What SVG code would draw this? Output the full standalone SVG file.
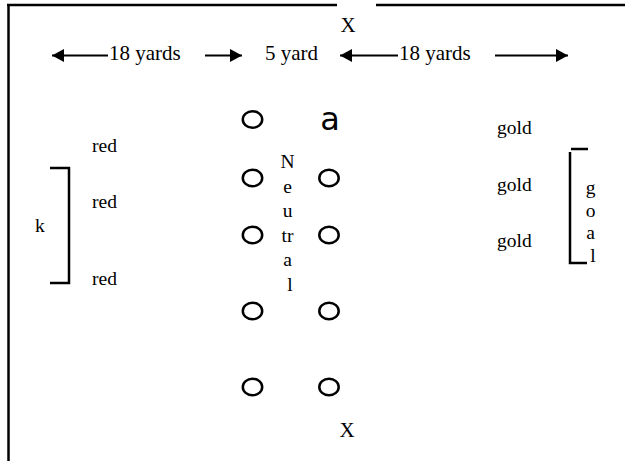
<svg xmlns="http://www.w3.org/2000/svg" width="625" height="461" viewBox="0 0 625 461">
<style>
.t{font-family:"Liberation Serif","Times New Roman",serif;font-size:19.5px;fill:#000}
.big{font-size:21px}
.yd{font-size:21px}
.ln{stroke:#000;stroke-width:2.5;fill:none}
.ar{stroke:#000;stroke-width:2;fill:none}
.c{stroke:#000;stroke-width:2.5;fill:none}
</style>
<defs>
<marker id="ah" markerUnits="userSpaceOnUse" markerWidth="13" markerHeight="13" refX="12" refY="6.5" orient="auto">
<path d="M0,0 L12,6.5 L0,13 z" fill="#000"/>
</marker>
</defs>
<rect width="625" height="461" fill="#fff"/>
<g id="border">
<line class="ln" x1="8.5" y1="4" x2="8.5" y2="461"/>
<line class="ln" x1="7" y1="5" x2="337" y2="5"/>
<line class="ln" x1="376" y1="5" x2="625" y2="5"/>
</g>
<g id="connectors">
<line class="ar" x1="108" y1="55.5" x2="52" y2="55.5" marker-end="url(#ah)"/>
<line class="ar" x1="205" y1="55.5" x2="242" y2="55.5" marker-end="url(#ah)"/>
<line class="ar" x1="398" y1="55.5" x2="340" y2="55.5" marker-end="url(#ah)"/>
<line class="ar" x1="495" y1="55.5" x2="568" y2="55.5" marker-end="url(#ah)"/>
</g>
<g id="labels-top">
<text class="t big" x="348" y="32" text-anchor="middle">X</text>
<text class="t yd" x="109" y="60">18 yards</text>
<text class="t yd" x="265" y="60">5 yard</text>
<text class="t yd" x="399" y="60">18 yards</text>
</g>
<g id="cones">
<ellipse class="c" cx="252.5" cy="119.5" rx="9.7" ry="8.3"/>
<text x="330" y="129.5" text-anchor="middle" style="font-family:'DejaVu Sans',sans-serif;font-size:32px">a</text>
<ellipse class="c" cx="252.5" cy="178" rx="9.7" ry="8.3"/>
<ellipse class="c" cx="329" cy="178" rx="9.7" ry="8.3"/>
<ellipse class="c" cx="252.5" cy="235" rx="9.7" ry="8.3"/>
<ellipse class="c" cx="329" cy="235" rx="9.7" ry="8.3"/>
<ellipse class="c" cx="252.5" cy="311" rx="9.7" ry="8.3"/>
<ellipse class="c" cx="329" cy="311" rx="9.7" ry="8.3"/>
<ellipse class="c" cx="252.5" cy="387" rx="9.7" ry="8.3"/>
<ellipse class="c" cx="329" cy="387" rx="9.7" ry="8.3"/>
</g>
<g id="neutral">
<text class="t" text-anchor="middle">
<tspan x="290" y="168">N</tspan>
<tspan x="290" y="192.6">e</tspan>
<tspan x="290" y="217.2">u</tspan>
<tspan x="290" y="241.8">tr</tspan>
<tspan x="290" y="266.4">a</tspan>
<tspan x="290" y="291">l</tspan>
</text>
</g>
<g id="red-team">
<text class="t" x="92" y="152">red</text>
<text class="t" x="92" y="208">red</text>
<text class="t" x="92" y="285">red</text>
</g>
<g id="left-goal">
<path class="ln" d="M50,168 H69 V283 H50"/>
<text class="t" x="35" y="232">k</text>
</g>
<g id="gold-team">
<text class="t" x="497" y="134">gold</text>
<text class="t" x="497" y="191">gold</text>
<text class="t" x="497" y="247">gold</text>
</g>
<g id="right-goal">
<line class="ln" x1="571" y1="149" x2="588" y2="149"/>
<path class="ln" d="M570,152 V263 H587"/>
<text class="t" text-anchor="middle">
<tspan x="593" y="194">g</tspan>
<tspan x="593" y="216.7">o</tspan>
<tspan x="593" y="239.3">a</tspan>
<tspan x="593" y="262">l</tspan>
</text>
</g>
<g id="bottom">
<text class="t big" x="347" y="437" text-anchor="middle">X</text>
</g>
</svg>
